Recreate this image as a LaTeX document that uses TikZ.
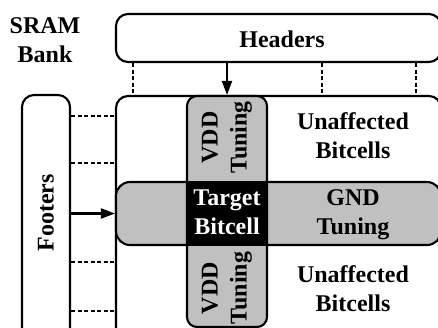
\documentclass[tikz,border=0pt]{standalone}
\usepackage{fontspec}
\setmainfont{Liberation Serif}
\usetikzlibrary{arrows.meta}
\definecolor{tgray}{RGB}{192,192,192}
\begin{document}
\begin{tikzpicture}[x=1pt,y=-1pt,
  box/.style={draw,line width=2.1pt,rounded corners=12pt,inner sep=0pt},
  lbl/.style={font=\fontsize{24}{29}\selectfont\bfseries,align=center,inner sep=0pt},
  dsh/.style={line width=2.1pt,dash pattern=on 4pt off 2.5pt},
  arr/.style={line width=2.1pt,-{Triangle[length=14pt,width=10pt]}},
]
\useasboundingbox (0,0) rectangle (438,327);
\fill[white] (0,0) rectangle (438,327);
\clip (0,0) rectangle (438,327);
% boxes
\node[box, minimum width=325pt, minimum height=48pt] (headers) at (278.5,38) {};
\node[box, minimum width=325pt, minimum height=249pt] (mainbox) at (278.5,220.5) {};
\node[box, minimum width=48pt, minimum height=250pt] (footers) at (46,220) {};
\node[box, fill=tgray, rounded corners=14pt, minimum width=325pt, minimum height=63pt] (gnd) at (278.5,213.5) {};
\node[box, fill=tgray, rounded corners=10pt, minimum width=80pt, minimum height=231pt] (vdd) at (227,211.5) {};
\node[fill=black, inner sep=0pt, minimum width=82pt, minimum height=65pt] (tgt) at (227,213.5) {};
% texts
\node[lbl] (sram) at (45,40) {SRAM\\Bank};
\node[lbl] (hdrtxt) at (282,39) {Headers};
\node[lbl] (unaff1) at (353,135.5) {Unaffected\\Bitcells};
\node[lbl] (unaff2) at (353,288.5) {Unaffected\\Bitcells};
\node[lbl] (gndtxt) at (353,214.5) {GND\\Tuning};
\node[lbl, text=white] (tgttxt) at (227,212) {Target\\Bitcell};
\node[lbl, rotate=90] (vdd1) at (227,137.5) {VDD\\Tuning};
\node[lbl, rotate=90] (vdd2) at (227,288) {VDD\\Tuning};
\node[lbl, rotate=90] (foottxt) at (46,213) {Footers};
% dashed links
\coordinate (h1) at (133,0);
\coordinate (h2) at (322,0);
\coordinate (h3) at (416,0);
\foreach \c in {h1,h2,h3}
  \draw[dsh] (headers.south -| \c) -- (mainbox.north -| \c);
\coordinate (f1) at (0,116);
\coordinate (f2) at (0,163);
\coordinate (f3) at (0,262);
\coordinate (f4) at (0,311);
\foreach \c in {f1,f2,f3,f4}
  \draw[dsh] (footers.east |- \c) -- (mainbox.west |- \c);
% arrows
\draw[arr] (headers.south -| vdd.north) -- (vdd.north);
\draw[arr] (footers.east |- gnd.west) -- (gnd.west);
\end{tikzpicture}
\end{document}
